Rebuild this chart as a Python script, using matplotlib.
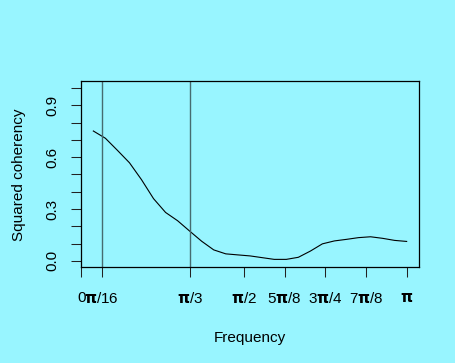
"""
二系列間の二乗コヒーレンシーを周波数ごとに描画する。
縦線は π/16 と π/3 の位置。

出力: out.png
"""

import numpy as np
import matplotlib
matplotlib.use("Agg")
import matplotlib.pyplot as plt

plt.rcParams["font.family"] = ["Liberation Sans", "DejaVu Sans"]
# π だけ太めの字体にする（Rのシンボルフォント風）
plt.rcParams["mathtext.fontset"] = "custom"
plt.rcParams["mathtext.rm"] = "Liberation Sans"
plt.rcParams["mathtext.bf"] = "DejaVu Sans:bold"

BG = "#98F5FF"

# 周波数（π の倍数）と二乗コヒーレンシー
FREQ_PI = [0.037, 0.074, 0.111, 0.148, 0.185, 0.222, 0.259, 0.296, 0.333,
           0.370, 0.407, 0.444, 0.481, 0.519, 0.556, 0.593, 0.630, 0.667,
           0.704, 0.741, 0.778, 0.815, 0.852, 0.889, 0.926, 0.963, 1.000]
COH = [0.752, 0.710, 0.640, 0.568, 0.470, 0.360, 0.280, 0.232, 0.172,
       0.113, 0.063, 0.040, 0.034, 0.028, 0.018, 0.008, 0.008, 0.020,
       0.056, 0.098, 0.115, 0.124, 0.134, 0.139, 0.130, 0.118, 0.112]

# x軸の目盛り（π の倍数）とラベル
PI = r"$\mathbf{π}$"
XTICKS_PI = [0, 1 / 16, 1 / 3, 1 / 2, 5 / 8, 3 / 4, 7 / 8, 1]
XTICK_LABELS = ["0", PI + "/16", PI + "/3", PI + "/2", "5" + PI + "/8",
                "3" + PI + "/4", "7" + PI + "/8", PI]

# y軸: 目盛りは0.1刻み、ラベルは重ならないものだけ
YTICKS = [0.0, 0.1, 0.2, 0.3, 0.4, 0.5, 0.6, 0.7, 0.8, 0.9, 1.0]
YTICK_LABELS = ["0.0", "", "", "0.3", "", "", "0.6", "", "", "0.9", ""]

# 参照線
VLINES_PI = [1 / 16, 1 / 3]


def main():
    fig = plt.figure(figsize=(4.56, 3.63), dpi=100, facecolor=BG)
    ax = fig.add_axes([0.1783, 0.2636, 0.9189 - 0.1783, 0.776 - 0.2636])
    ax.set_facecolor(BG)

    freq = np.array(FREQ_PI) * np.pi
    ax.plot(freq, COH, color="black", linewidth=0.8)

    for v in VLINES_PI:
        ax.axvline(v * np.pi, color="#466c70", linewidth=1.0)

    ax.set_xlim(0, 1.038 * np.pi)
    ax.set_ylim(-0.038, 1.04)

    ax.set_xticks(np.array(XTICKS_PI) * np.pi)
    ax.set_xticklabels(XTICK_LABELS)
    ax.set_yticks(YTICKS)
    ax.set_yticklabels(YTICK_LABELS, rotation=90, va="center")

    ax.tick_params(axis="both", length=6.9, width=0.75, labelsize=11,
                   color="#222222")
    ax.tick_params(axis="x", pad=10)
    ax.tick_params(axis="y", pad=9)

    for sp in ax.spines.values():
        sp.set_linewidth(0.9)
        sp.set_color("black")

    ax.set_xlabel("Frequency", fontsize=11, labelpad=18)
    ax.set_ylabel("Squared coherency", fontsize=11, labelpad=14)

    fig.savefig("out.png", dpi=100, facecolor=BG)
    plt.close(fig)


if __name__ == "__main__":
    main()
